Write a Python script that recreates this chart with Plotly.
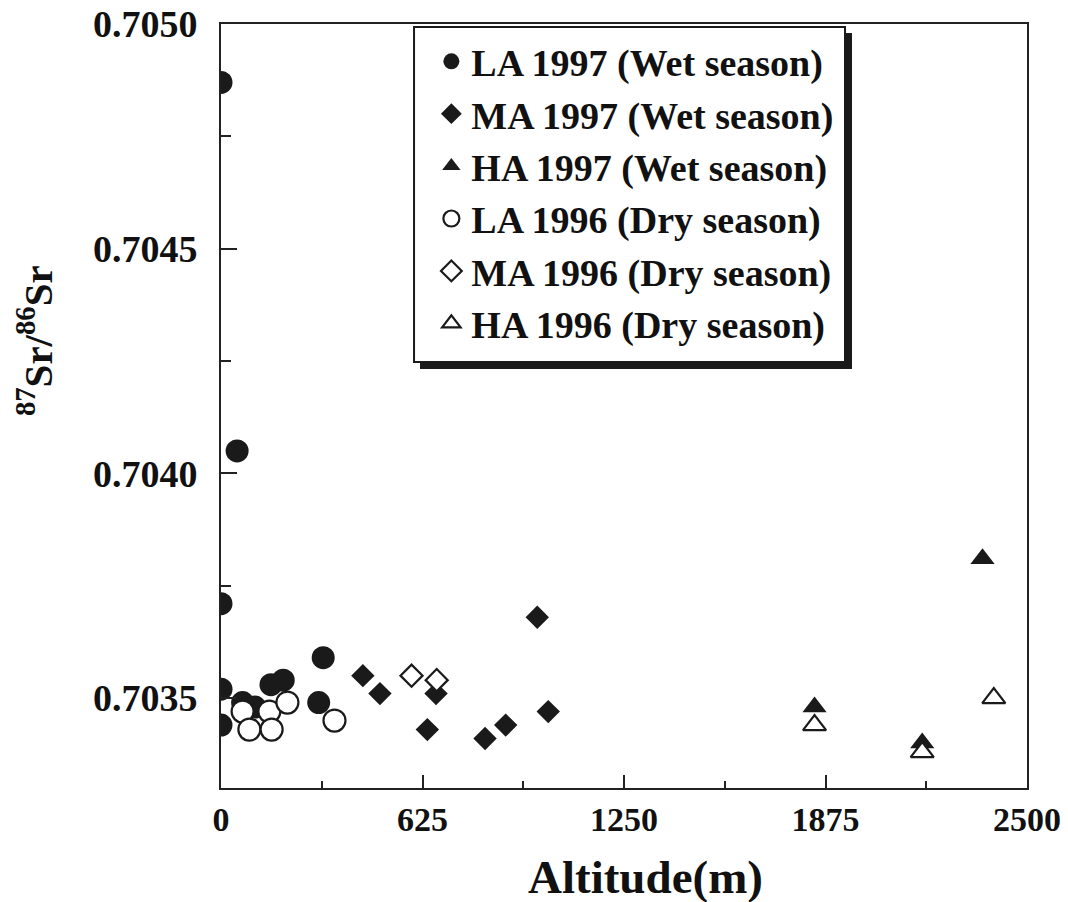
import plotly.graph_objects as go

# ---------------- data ----------------
la97_alt = [0, 50, 0, 0, 0, 67, 105, 155, 193, 317, 303]
la97_sr = [0.70487, 0.70405, 0.70371, 0.70352, 0.70344, 0.70349, 0.70348, 0.70353, 0.70354, 0.70359, 0.70349]

ma97_alt = [440, 493, 640, 667, 819, 883, 981, 1015]
ma97_sr = [0.70355, 0.70351, 0.70343, 0.70351, 0.70341, 0.70344, 0.70368, 0.70347]

ha97_alt = [1841, 2175, 2362]
ha97_sr = [0.70348, 0.70340, 0.70381]

la96_alt = [67, 88, 150, 157, 206, 352]
la96_sr = [0.70347, 0.70343, 0.70347, 0.70343, 0.70349, 0.70345]

ma96_alt = [591, 669]
ma96_sr = [0.70355, 0.70354]

ha96_alt = [1841, 2175, 2397]
ha96_sr = [0.70344, 0.70338, 0.70350]

x_ticks = [0, 625, 1250, 1875, 2500]
y_ticks = [0.7035, 0.7040, 0.7045, 0.7050]
y_tick_labels = ["0.7035", "0.7040", "0.7045", "0.7050"]

x_title = "Altitude(m)"
y_title = "<sup>87</sup>Sr/<sup>86</sup>Sr"

FONT = "Liberation Serif, Times New Roman, serif"
INK = "#1a1a1a"

fig = go.Figure()

def add(name, xs, ys, symbol, size, filled):
    fig.add_trace(go.Scatter(
        x=xs, y=ys, mode="markers", name=name,
        marker=dict(symbol=symbol, size=size,
                    color=INK if filled else "white",
                    line=dict(color=INK, width=0 if filled else 2.2)),
    ))

add("LA 1997 (Wet season)", la97_alt, la97_sr, "circle", 23, True)
add("MA 1997 (Wet season)", ma97_alt, ma97_sr, "diamond", 18, True)
add("HA 1997 (Wet season)", ha97_alt, ha97_sr, "triangle-up", 21, True)
add("LA 1996 (Dry season)", la96_alt, la96_sr, "circle", 22, False)
add("MA 1996 (Dry season)", ma96_alt, ma96_sr, "diamond", 17, False)
add("HA 1996 (Dry season)", ha96_alt, ha96_sr, "triangle-up", 20, False)

# legend frame with drop shadow (paper coordinates)
fig.add_shape(type="rect", xref="paper", yref="paper",
              x0=0.2469, x1=0.7829, y0=0.5484, y1=0.9882,
              fillcolor=INK, line=dict(width=0), layer="above")
fig.add_shape(type="rect", xref="paper", yref="paper",
              x0=0.2395, x1=0.7742, y0=0.5576, y1=0.9961,
              fillcolor="white", line=dict(color=INK, width=2), layer="above")

# axis titles as annotations (placed like the reference)
fig.add_annotation(text=x_title, xref="paper", yref="paper",
                   x=0.527, y=-0.117, xanchor="center", yanchor="middle",
                   showarrow=False,
                   font=dict(size=47, family=FONT, color="#111", weight="bold"))
fig.add_annotation(text=y_title, xref="paper", yref="paper",
                   x=-0.231, y=0.586, xanchor="center", yanchor="middle",
                   textangle=-90, showarrow=False,
                   font=dict(size=41, family=FONT, color="#111", weight="bold"))

axis_common = dict(
    showline=True, linecolor="#222", linewidth=2, mirror=True,
    showgrid=False, zeroline=False, ticks="inside", tickcolor="#222",
    tickwidth=2, automargin=False, ticklabeloverflow="allow",
)

fig.update_layout(
    width=1068, height=902,
    margin=dict(l=221, r=41, t=24, b=114),
    paper_bgcolor="white", plot_bgcolor="white",
    font=dict(family=FONT, color="#111", weight="bold"),
    showlegend=True,
    legend=dict(x=0.261, y=0.992, xanchor="left", yanchor="top",
                bgcolor="rgba(0,0,0,0)", borderwidth=0,
                font=dict(family=FONT, size=38, color="#111", weight="bold"),
                itemsizing="trace"),
    xaxis=dict(range=[0, 2500], tickvals=x_ticks,
               ticklen=13, tickfont=dict(size=34, family=FONT, weight="bold"),
               minor=dict(dtick=312.5, tick0=0, ticks="inside", ticklen=7, tickwidth=2, tickcolor="#222"),
               **axis_common),
    yaxis=dict(range=[0.7033, 0.7050], tickvals=y_ticks, ticktext=y_tick_labels,
               ticklen=16, tickfont=dict(size=38, family=FONT, weight="bold"),
               ticklabelstandoff=14,
               minor=dict(dtick=0.00025, tick0=0.7035, ticks="inside", ticklen=10, tickwidth=2, tickcolor="#222"),
               **axis_common),
)

# remove the browser's default 8 px body margin so the figure fills the window
fig.write_html("out.html", config={"displayModeBar": False},
               post_script="document.body.style.margin='0';")
